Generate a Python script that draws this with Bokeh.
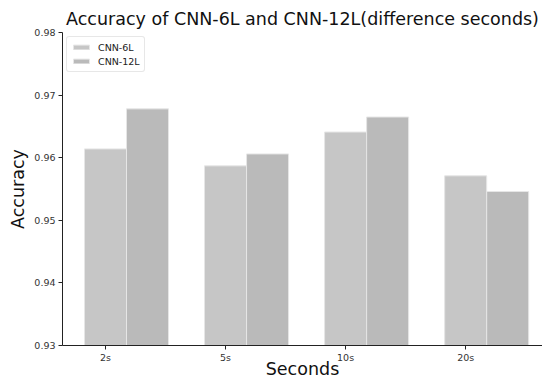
from bokeh.plotting import figure
from bokeh.models import Range1d, FixedTicker, ColumnDataSource, Legend, LegendItem
from bokeh.embed import file_html
from bokeh.resources import INLINE

categories = ["2s", "5s", "10s", "20s"]
cnn6 = [0.9614, 0.9587, 0.9641, 0.9571]
cnn12 = [0.9678, 0.9606, 0.9665, 0.9546]
yticks = [0.93, 0.94, 0.95, 0.96, 0.97, 0.98]
bar_w = 0.35

FONT = "DejaVu Sans"

p = figure(width=542, height=381, output_backend="svg", toolbar_location=None,
           x_range=Range1d(-0.358, 3.64), y_range=Range1d(0.93, 0.98),
           min_border_left=62, min_border_right=0, min_border_top=32, min_border_bottom=34)

idx = list(range(len(categories)))
src6 = ColumnDataSource(dict(x=idx, top=cnn6))
src12 = ColumnDataSource(dict(x=[i + bar_w for i in idx], top=cnn12))
r6 = p.vbar(x="x", top="top", bottom=0.93, width=bar_w, source=src6,
            fill_color="#c6c6c6", line_color="#e6e6e6", line_width=1)
r12 = p.vbar(x="x", top="top", bottom=0.93, width=bar_w, source=src12,
             fill_color="#bababa", line_color="#e6e6e6", line_width=1)

p.title.text = "Accuracy of CNN-6L and CNN-12L(difference seconds)"
p.title.text_font = FONT
p.title.text_font_size = "17.5px"
p.title.text_font_style = "normal"
p.title.align = "center"
p.title.text_color = "#111111"
p.title.offset = 0
p.title.standoff = 8

p.xaxis.ticker = FixedTicker(ticks=idx)
p.xaxis.major_label_overrides = {i: c for i, c in zip(idx, categories)}
p.yaxis.ticker = FixedTicker(ticks=yticks)
p.yaxis.major_label_overrides = {t: f"{t:.2f}" for t in yticks}

for ax in (p.xaxis[0], p.yaxis[0]):
    ax.major_label_text_font = FONT
    ax.major_label_text_font_size = "9.5px"
    ax.major_label_text_color = "#333333"
    ax.axis_label_text_font = FONT
    ax.axis_label_text_font_size = "17.5px"
    ax.axis_label_text_font_style = "normal"
    ax.axis_label_text_color = "#111111"
    ax.minor_tick_line_color = None
    ax.major_tick_out = 4
    ax.major_tick_in = 0
    ax.axis_line_color = "#222222"
    ax.major_tick_line_color = "#222222"
    ax.major_label_standoff = 3

p.xaxis.major_label_standoff = 2
p.xaxis.axis_label_standoff = -7
p.yaxis.axis_label_standoff = 3
p.xaxis.axis_label = "Seconds"
p.yaxis.axis_label = "Accuracy"

p.xgrid.grid_line_color = None
p.ygrid.grid_line_color = None
p.outline_line_color = None

legend = Legend(items=[LegendItem(label="CNN-6L", renderers=[r6]),
                       LegendItem(label="CNN-12L", renderers=[r12])],
                location="top_left")
legend.label_text_font = FONT
legend.label_text_font_size = "9.5px"
legend.label_text_color = "#222222"
legend.glyph_width = 20
legend.glyph_height = 6
legend.label_height = 12
legend.spacing = 2
legend.padding = 4
legend.margin = 4
legend.label_standoff = 7
legend.border_line_color = "#d0d0d0"
legend.border_radius = 3
p.add_layout(legend)

open("out.html", "w").write(file_html(p, INLINE))
